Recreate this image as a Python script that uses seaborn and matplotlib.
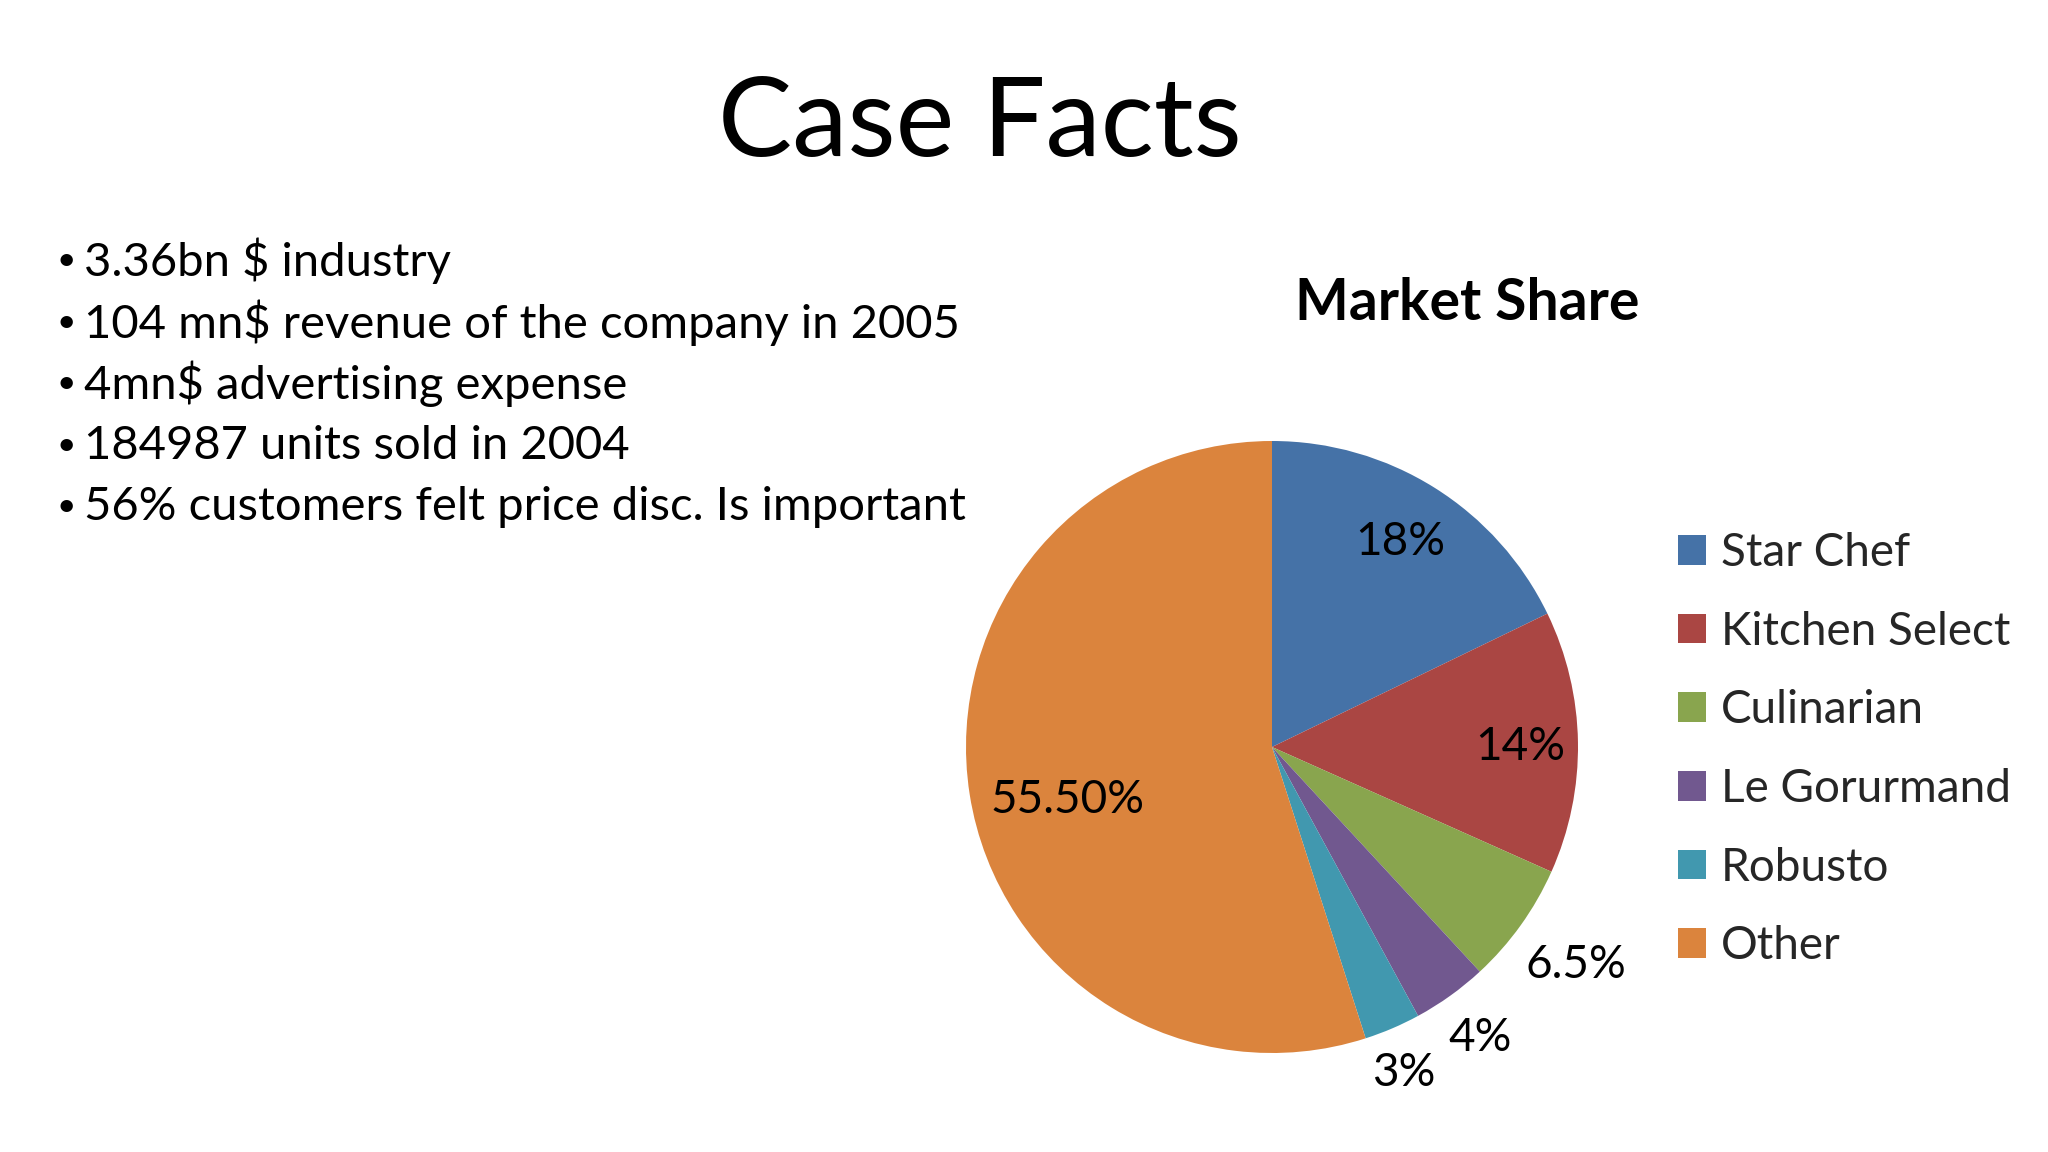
import numpy as np
import pandas as pd
import seaborn as sns
import matplotlib
matplotlib.use('Agg')
import matplotlib.pyplot as plt

# data
brands = ['Star Chef', 'Kitchen Select', 'Culinarian', 'Le Gorurmand', 'Robusto', 'Other']
share = [18, 14, 6.5, 4, 3, 55.5]
share_labels = ['18%', '14%', '6.5%', '4%', '3%', '55.50%']
bullets = ['3.36bn $ industry',
           '104 mn$ revenue of the company in 2005',
           '4mn$ advertising expense',
           '184987 units sold in 2004',
           '56% customers felt price disc. Is important']
colors = ['#4572A7', '#AA4643', '#89A54E', '#71588F', '#4198AF', '#DB843D']

sns.set_theme(style='white')
plt.rcParams['font.family'] = ['Lato', 'DejaVu Sans']
pal = sns.color_palette(colors)

fig = plt.figure(figsize=(20.48, 11.52), dpi=100)
fig.patch.set_facecolor('white')

# title
fig.text(980 / 2048, 1 - 125 / 1152, 'Case Facts', ha='center', va='center',
         fontsize=80, color='black')

# bullet list
for i, b in enumerate(bullets):
    y = 1 - (261 + i * 61.6) / 1152
    fig.text(56 / 2048, y, '\u2022', ha='left', va='center', fontsize=24, color='black')
    fig.text(84 / 2048, y, b, ha='left', va='center', fontsize=33.9, color='black')

# pie
cx, cy, r = 1272, 747, 306
ax = fig.add_axes([(cx - r) / 2048, (1152 - cy - r) / 1152, 2 * r / 2048, 2 * r / 1152])
wedges, _ = ax.pie(share, colors=pal, startangle=90, counterclock=False, radius=1,
                   wedgeprops=dict(linewidth=0))
ax.set_xlim(-1, 1)
ax.set_ylim(-1, 1)
ax.set_aspect('equal')
ax.axis('off')

# label placement (distance from centre, angular nudge)
dist = [0.79, 0.81, 1.22, 1.17, 1.15, 0.69]
nudge = [0, -1, 0, 0, -1.2, 5.5]
for w, lab, d, n in zip(wedges, share_labels, dist, nudge):
    ang = np.deg2rad((w.theta1 + w.theta2) / 2 + n)
    ax.text(d * np.cos(ang), d * np.sin(ang), lab, ha='center', va='center',
            fontsize=33, color='black', clip_on=False)

fig.text(1467 / 2048, 1 - 304 / 1152, 'Market Share', ha='center', va='center',
         fontsize=41, fontweight='bold', color='black')

leg = fig.legend(wedges, brands, loc='upper left',
                 bbox_to_anchor=(1655 / 2048, 1 - 509 / 1152),
                 frameon=False, fontsize=33, handlelength=0.62, handleheight=0.62,
                 handletextpad=0.32, labelspacing=0.8, borderpad=0)

plt.savefig('out.png', dpi=100, facecolor='white')
